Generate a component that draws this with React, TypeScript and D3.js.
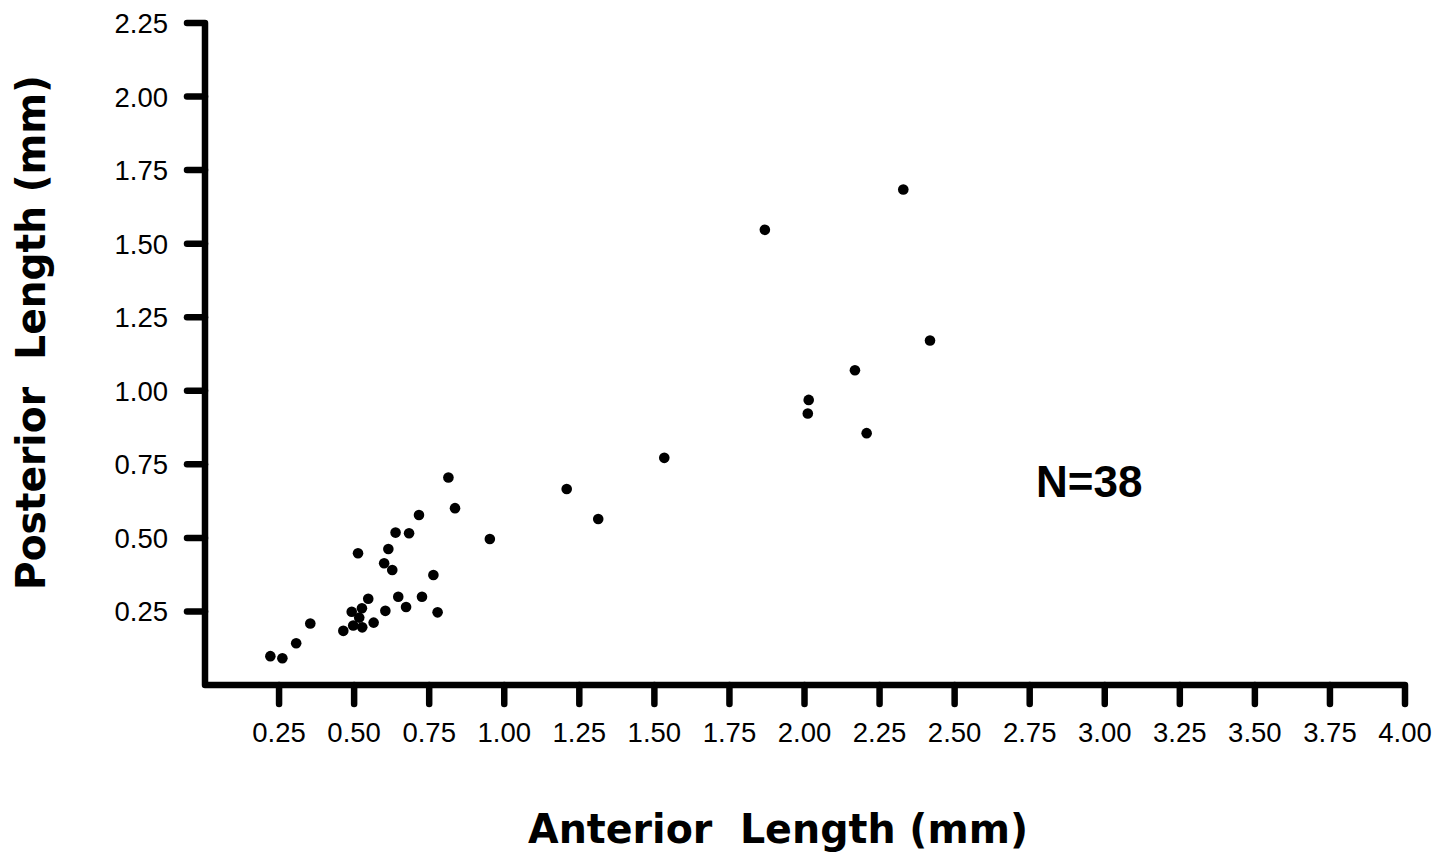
import React from "react";
import * as d3 from "d3";

const anterior = [
  0.814, 0.836, 0.716, 0.638, 0.683, 0.952, 0.513, 0.614, 0.600, 0.627,
  0.764, 0.547, 0.647, 0.726, 0.492, 0.526, 0.517, 0.604, 0.673, 0.778,
  0.354, 0.497, 0.527, 0.565, 0.464, 0.307, 0.221, 0.261, 1.208, 1.313,
  1.533, 2.329, 1.868, 2.418, 2.168, 2.014, 2.011, 2.207,
];
const posterior = [
  0.705, 0.601, 0.578, 0.518, 0.516, 0.496, 0.448, 0.462, 0.414, 0.391,
  0.374, 0.293, 0.300, 0.300, 0.249, 0.261, 0.229, 0.252, 0.265, 0.247,
  0.209, 0.202, 0.196, 0.212, 0.184, 0.142, 0.098, 0.091, 0.666, 0.564,
  0.772, 1.684, 1.547, 1.171, 1.070, 0.969, 0.923, 0.856,
];
const xTicks = [0.25, 0.5, 0.75, 1.0, 1.25, 1.5, 1.75, 2.0, 2.25, 2.5, 2.75, 3.0, 3.25, 3.5, 3.75, 4.0];
const yTicks = [0.25, 0.5, 0.75, 1.0, 1.25, 1.5, 1.75, 2.0, 2.25];
const xTitle = "Anterior  Length (mm)";
const yTitle = "Posterior  Length (mm)";
const nLabel = "N=38";

export default function App() {
  const W = 1440;
  const H = 852;
  const x = d3.scaleLinear().domain([0, 4]).range([204, 1405]);
  const y = d3.scaleLinear().domain([0, 2.25]).range([685, 23]);
  const axisX0 = 205;
  const fmt = d3.format(".2f");
  const tickFont = "'Liberation Sans', Arial, sans-serif";
  const titleFont = "'DejaVu Sans', sans-serif";
  const sw = 6.5;

  return (
    <svg
      width={W}
      height={H}
      style={{ position: "absolute", left: 0, top: 0, background: "#fff" }}
    >
      <rect x={0} y={0} width={W} height={H} fill="#fff" />
      {/* axes */}
      <g stroke="#000" strokeWidth={sw} strokeLinecap="round" strokeLinejoin="round" fill="none">
        <path
          d={`M${axisX0 - 18},${y(2.25)} L${axisX0},${y(2.25)} L${axisX0},${y(0)} L${x(4)},${y(0)} L${x(4)},${y(0) + 19}`}
        />
        {yTicks.slice(0, -1).map((t) => (
          <line key={"yt" + t} x1={axisX0 - 18} x2={axisX0} y1={y(t)} y2={y(t)} />
        ))}
        {xTicks.slice(0, -1).map((t) => (
          <line key={"xt" + t} x1={x(t)} x2={x(t)} y1={y(0)} y2={y(0) + 19} />
        ))}
      </g>
      {/* tick labels */}
      <g fontFamily={tickFont} fontSize={27.5} fill="#000">
        {xTicks.map((t) => (
          <text key={"xl" + t} x={x(t)} y={742} textAnchor="middle">
            {fmt(t)}
          </text>
        ))}
        {yTicks.map((t) => (
          <text key={"yl" + t} x={168} y={y(t) + 10} textAnchor="end">
            {fmt(t)}
          </text>
        ))}
      </g>
      {/* points */}
      <g fill="#000">
        {anterior.map((a, i) => (
          <circle key={"p" + i} cx={x(a)} cy={y(posterior[i])} r={5.3} />
        ))}
      </g>
      {/* annotation */}
      <text
        x={1036}
        y={497}
        fontFamily={tickFont}
        fontWeight="bold"
        fontSize={44}
        fill="#000"
      >
        {nLabel}
      </text>
      {/* axis titles */}
      <text
        x={528}
        y={843}
        fontFamily={titleFont}
        fontWeight="bold"
        fontSize={41}
        fill="#000"
        textLength={500}
        lengthAdjust="spacingAndGlyphs"
        style={{ whiteSpace: "pre" }}
      >
        {xTitle}
      </text>
      <text
        transform={`translate(45,${590}) rotate(-90)`}
        fontFamily={titleFont}
        fontWeight="bold"
        fontSize={41}
        fill="#000"
        textLength={515}
        lengthAdjust="spacingAndGlyphs"
        style={{ whiteSpace: "pre" }}
      >
        {yTitle}
      </text>
    </svg>
  );
}
